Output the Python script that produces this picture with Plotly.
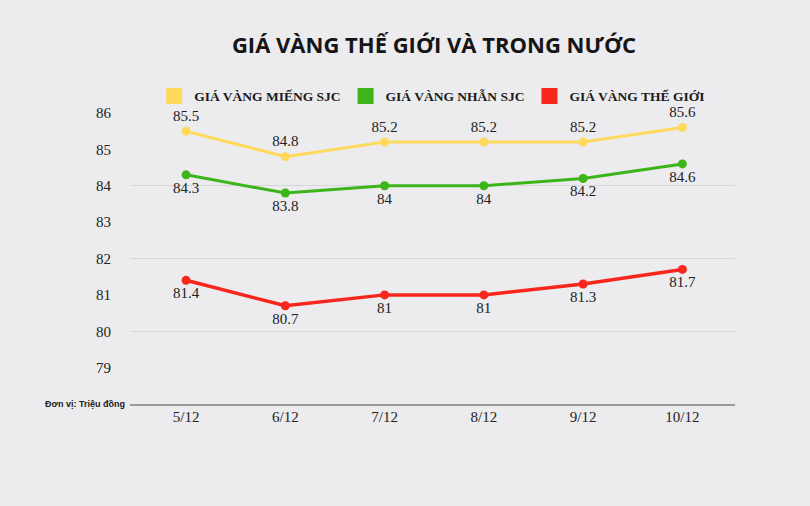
import plotly.graph_objects as go

dates = ["5/12", "6/12", "7/12", "8/12", "9/12", "10/12"]
sjc_mieng = [85.5, 84.8, 85.2, 85.2, 85.2, 85.6]
sjc_nhan = [84.3, 83.8, 84, 84, 84.2, 84.6]
the_gioi = [81.4, 80.7, 81, 81, 81.3, 81.7]
names = ["GIÁ VÀNG MIẾNG SJC", "GIÁ VÀNG NHẪN SJC", "GIÁ VÀNG THẾ GIỚI"]
y_ticks = [79, 80, 81, 82, 83, 84, 85, 86]
grid_vals = [80, 82, 84, 86]

colors = ["#FFD95C", "#3CB51B", "#F8261D"]
series = [sjc_mieng, sjc_nhan, the_gioi]
positions = ["top center", "bottom center", "bottom center"]
widths = [3, 3, 3.5]

fig = go.Figure()
for vals, c, pos, w in zip(series, colors, positions, widths):
    fig.add_trace(go.Scatter(
        x=dates, y=vals, mode="lines+markers+text",
        line=dict(color=c, width=w), marker=dict(color=c, size=9),
        text=[f"{v:g}" for v in vals], textposition=pos,
        textfont=dict(family="Liberation Serif", size=15, color="#222222"),
        showlegend=False, cliponaxis=False, hoverinfo="skip"))
for n, c in zip(names, colors):
    fig.add_trace(go.Scatter(
        x=[None], y=[None], mode="markers", name=n,
        marker=dict(color=c, size=16, symbol="square")))

bg = "#ECEBED"
fig.update_layout(
    width=810, height=506, paper_bgcolor=bg, plot_bgcolor=bg,
    margin=dict(l=130, r=75, t=113, b=102),
    title=dict(text="GIÁ VÀNG THẾ GIỚI VÀ TRONG NƯỚC", x=434 / 810, xref="container",
               xanchor="center", y=1 - 45 / 506, yref="container", yanchor="middle",
               font=dict(family="Open Sans", size=22, color="#151515", weight=700)),
    legend=dict(orientation="h", x=0.040, xanchor="left", y=1.058, yanchor="middle",
                font=dict(family="Liberation Serif", size=13.5, color="#1a1a1a", weight=700),
                itemsizing="trace", bgcolor="rgba(0,0,0,0)", tracegroupgap=0,
                itemwidth=30),
    xaxis=dict(type="category", range=[-0.565, 5.53], showgrid=False,
               showline=True, linecolor="#9a9a9a", linewidth=1.5, ticks="",
               tickfont=dict(family="Liberation Serif", size=15, color="#222222"),
               ticklabelstandoff=-2, fixedrange=True),
    yaxis=dict(range=[78, 86], tickmode="array", tickvals=y_ticks, showgrid=False,
               zeroline=False, showline=False, ticks="",
               tickfont=dict(family="Liberation Serif", size=15, color="#222222"),
               ticklabelstandoff=18, fixedrange=True,
               minor=dict(tickmode="array", tickvals=grid_vals, showgrid=True,
                          gridcolor="#d6d5d8", gridwidth=1, ticks="")),
    annotations=[dict(text="<b>Đơn vị: Triệu đồng</b>", xref="paper", yref="paper",
                      x=-0.005, y=0, xanchor="right", yanchor="middle", showarrow=False,
                      font=dict(family="Liberation Sans", size=9, color="#1a1a1a"))],
)
fig.write_html("out.html", config={"displayModeBar": False},
               post_script="document.body.style.margin='0';document.body.style.background='#ECEBED';")
